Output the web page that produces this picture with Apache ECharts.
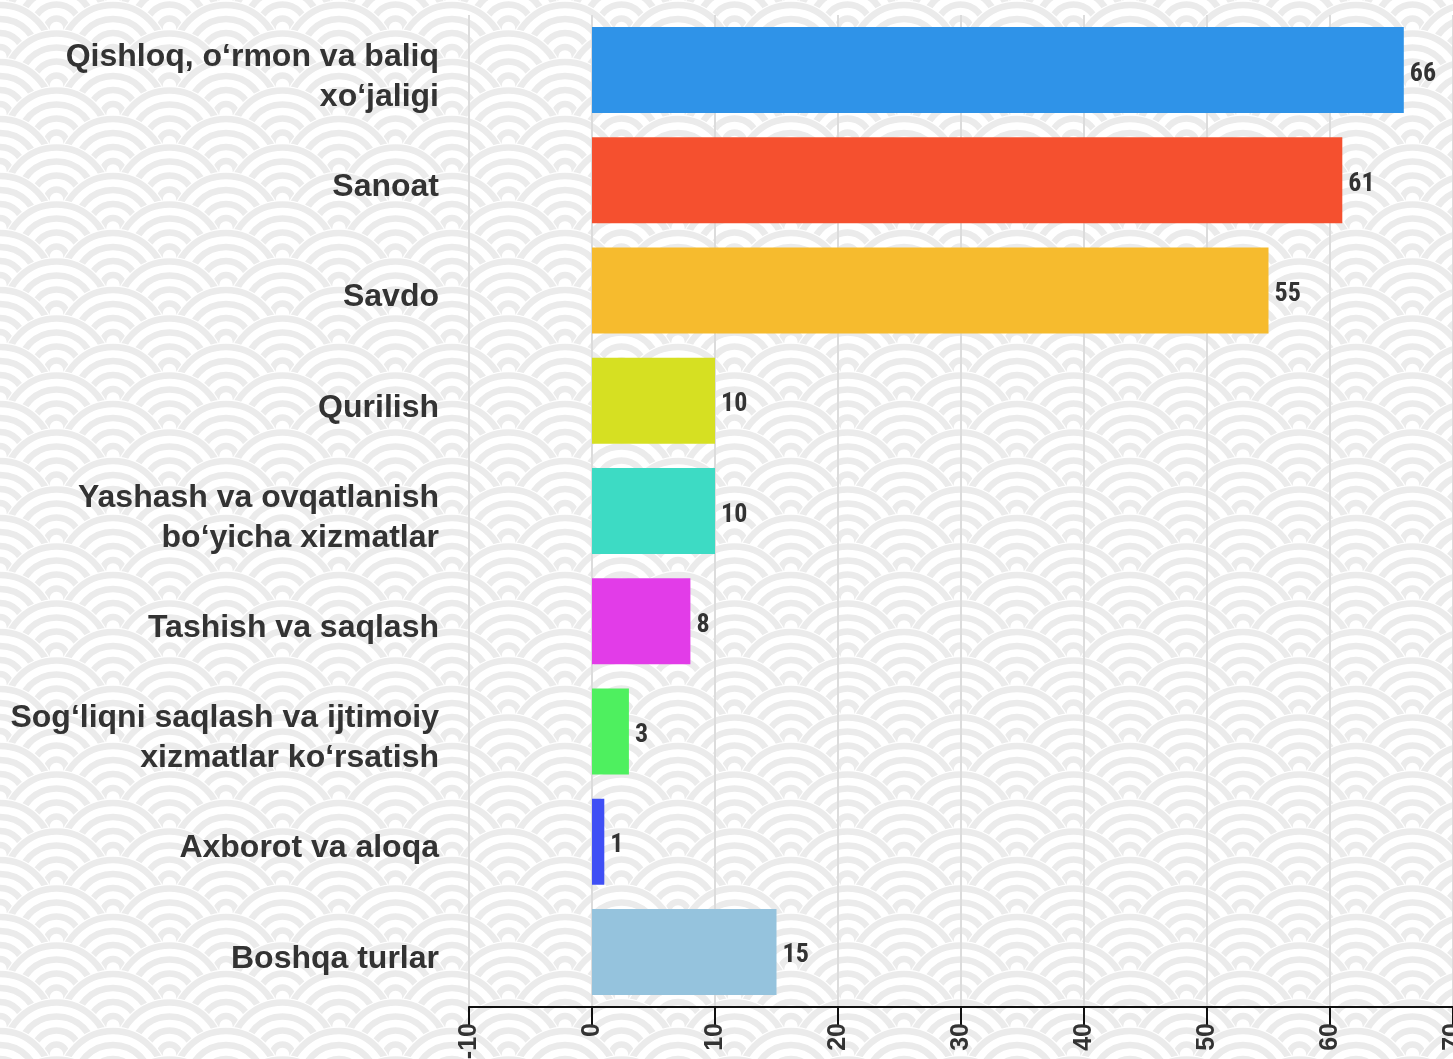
<!DOCTYPE html>
<html>

<head>
    <meta charset="utf-8" />
    <title>ECharts</title>
    <script src="https://cdn.jsdelivr.net/npm/echarts@6/dist/echarts.min.js"></script>
    <style>
        html, body { margin: 0; padding: 0; background: #fff; }
    </style>
</head>

<body>
    <div id="main" style="width: 1453px; height: 1059px"></div>
    <script type="text/javascript">
        var categories = [
            "Qishloq, o‘rmon va baliq\nxo‘jaligi",
            "Sanoat",
            "Savdo",
            "Qurilish",
            "Yashash va ovqatlanish\nbo‘yicha xizmatlar",
            "Tashish va saqlash",
            "Sog‘liqni saqlash va ijtimoiy\nxizmatlar ko‘rsatish",
            "Axborot va aloqa",
            "Boshqa turlar"
        ];
        var values = [66, 61, 55, 10, 10, 8, 3, 1, 15];
        var colors = [
            "#2f93e8", "#f5502f", "#f6bb2e", "#d6e022", "#3ddbc4",
            "#e23ce8", "#4ef05f", "#3f4ff5", "#95c3dd"
        ];
        var xTicks = { min: -10, max: 70, interval: 10 };

        // seigaiha wave background
        function makeWaves() {
            var r = 56.5, rowH = 28.5;
            var c = document.createElement("canvas");
            c.width = 113;
            c.height = 57;
            var ctx = c.getContext("2d");
            ctx.fillStyle = "#fff";
            ctx.fillRect(0, 0, c.width, c.height);
            for (var k = -2; k <= 4; k++) {
                var y = k * rowH;
                var off = (k % 2 !== 0) ? r : 0;
                for (var i = -1; i <= 2; i++) {
                    var x = i * 2 * r + off;
                    ctx.beginPath();
                    ctx.arc(x, y, r, 0, Math.PI * 2);
                    ctx.fillStyle = "#fff";
                    ctx.fill();
                    ctx.strokeStyle = "#ebebeb";
                    ctx.lineWidth = 6.5;
                    [52, 38, 24, 10].forEach(function (rr) {
                        ctx.beginPath();
                        ctx.arc(x, y, rr, 0, Math.PI * 2);
                        ctx.stroke();
                    });
                }
            }
            return c;
        }

        var myChart = echarts.init(document.getElementById("main"));
        var option = {
            backgroundColor: { image: makeWaves(), repeat: "repeat" },
            animation: false,
            grid: {
                left: 469,
                right: 0,
                top: 15,
                bottom: 52,
                containLabel: false,
                outerBoundsMode: "none"
            },
            xAxis: {
                type: "value",
                min: xTicks.min,
                max: xTicks.max,
                interval: xTicks.interval,
                axisLine: { show: true, lineStyle: { color: "#111", width: 2 } },
                axisTick: { show: true, length: 19, lineStyle: { color: "#111", width: 2 } },
                axisLabel: {
                    rotate: 90,
                    margin: 16,
                    color: "#333",
                    fontSize: 25,
                    fontWeight: "bold",
                    fontFamily: "Liberation Sans, Arial, sans-serif"
                },
                splitLine: { show: true, lineStyle: { color: "#dcdcdc", width: 2 } }
            },
            yAxis: {
                type: "category",
                inverse: true,
                data: categories,
                axisLine: { show: false },
                axisTick: { show: false },
                axisLabel: {
                    margin: 30,
                    color: "#333",
                    fontSize: 32,
                    lineHeight: 40,
                    fontWeight: "bold",
                    align: "right",
                    fontFamily: "Liberation Sans, Arial, sans-serif",
                    // small spacer line on top nudges the text down a bit
                    formatter: function (v) {
                        return "{s| }\n" + v;
                    },
                    rich: {
                        s: { fontSize: 2, lineHeight: 14 }
                    }
                }
            },
            series: [
                {
                    type: "bar",
                    barWidth: 86,
                    data: values.map(function (v, i) {
                        return { value: v, itemStyle: { color: colors[i] } };
                    }),
                    label: {
                        show: true,
                        position: "right",
                        distance: 6,
                        offset: [0, 4],
                        color: "#333",
                        fontSize: 26,
                        fontWeight: "bold",
                        fontFamily: "Roboto Condensed, Liberation Sans Narrow, DejaVu Sans Condensed, sans-serif"
                    }
                }
            ]
        };
        myChart.setOption(option);
    </script>
</body>

</html>
